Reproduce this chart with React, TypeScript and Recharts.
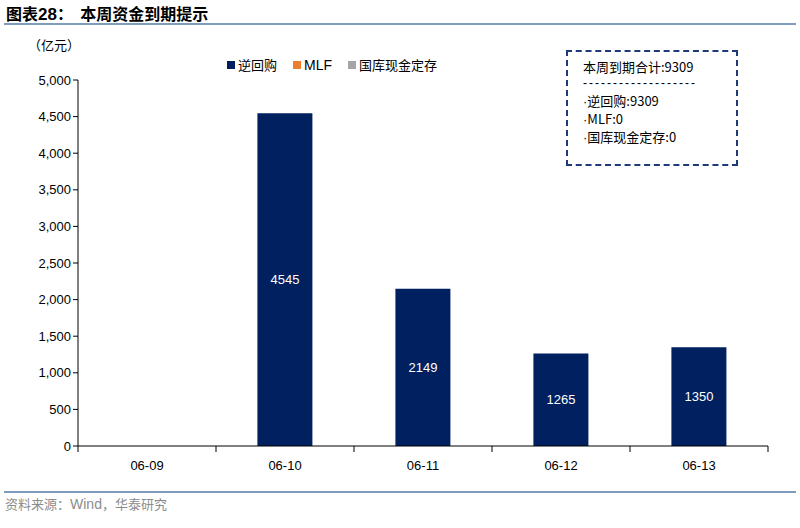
import React from 'react';
import { BarChart, Bar, XAxis, YAxis, LabelList } from 'recharts';

const dates = ['06-09', '06-10', '06-11', '06-12', '06-13'];
const reverseRepo = [0, 4545, 2149, 1265, 1350];
const mlf = [0, 0, 0, 0, 0];
const treasuryDeposit = [0, 0, 0, 0, 0];
const yTicks = [0, 500, 1000, 1500, 2000, 2500, 3000, 3500, 4000, 4500, 5000];

const series = [
  { key: 'repo', name: '逆回购', color: '#002060' },
  { key: 'mlf', name: 'MLF', color: '#ED7D31' },
  { key: 'deposit', name: '国库现金定存', color: '#A5A5A5' },
];

const summaryTitle = '本周到期合计:9309';
const summaryItems = ['逆回购:9309', 'MLF:0', '国库现金定存:0'];

const data = dates.map((d, i) => ({
  name: d,
  repo: reverseRepo[i],
  mlf: mlf[i],
  deposit: treasuryDeposit[i],
}));

const FONT = '"Liberation Sans", Arial, sans-serif';
const CJK = '"Noto Sans CJK SC", sans-serif';

// x axis tick: label in the middle, tick marks on the band edges
const XTick = (props: any) => {
  const { x, y, payload, index } = props;
  const half = 69;
  return (
    <g>
      <line x1={x - half} y1={y - 8} x2={x - half} y2={y - 2} stroke="#000" />
      {index === dates.length - 1 && (
        <line x1={x + half} y1={y - 8} x2={x + half} y2={y - 2} stroke="#000" />
      )}
      <text x={x} y={y + 16} textAnchor="middle" fontSize={13} fontFamily={FONT} fill="#000">
        {payload.value}
      </text>
    </g>
  );
};

const formatTick = (v: number) => v.toLocaleString('en-US');

export default function App() {
  return (
    <div style={{ position: 'absolute', left: 0, top: 0, width: 800, height: 528, background: '#fff', overflow: 'hidden' }}>
      <div style={{ position: 'absolute', left: 6, top: 1, fontSize: 16, fontWeight: 'bold', fontFamily: CJK, color: '#000', whiteSpace: 'nowrap' }}>
        图表<span style={{ fontFamily: FONT, fontSize: 17 }}>28</span>：&nbsp;&nbsp;本周资金到期提示
      </div>
      <div style={{ position: 'absolute', left: 4, top: 23, width: 792, height: 2, background: '#7F9BBE' }} />
      <div style={{ position: 'absolute', left: 28, top: 35, fontSize: 13, fontFamily: CJK, color: '#000', whiteSpace: 'nowrap' }}>（亿元）</div>

      <div style={{ position: 'absolute', left: 227, top: 55, display: 'flex', fontSize: 13, fontFamily: CJK, color: '#000' }}>
        {series.map((s) => (
          <div key={s.key} style={{ display: 'flex', alignItems: 'center', marginRight: 16 }}>
            <span style={{ display: 'inline-block', width: 8, height: 8, background: s.color, marginRight: 3 }} />
            <span style={{ fontFamily: s.key === 'mlf' ? FONT : CJK, fontSize: s.key === 'mlf' ? 14 : 13 }}>{s.name}</span>
          </div>
        ))}
      </div>

      <div style={{ position: 'absolute', left: 566, top: 50, width: 172, height: 116, border: '2px dashed #1F3A78', boxSizing: 'border-box', padding: '6px 0 0 15px', fontSize: 13, lineHeight: '17px', fontFamily: CJK, color: '#000' }}>
        <div style={{ whiteSpace: 'nowrap' }}>{summaryTitle}</div>
        <div style={{ whiteSpace: 'nowrap', fontFamily: FONT, fontSize: 12, letterSpacing: 2 }}>-------------------</div>
        {summaryItems.map((l, i) => (
          <div key={i} style={{ whiteSpace: 'nowrap' }}>
            <span style={{ fontFamily: FONT }}>·</span>{l}
          </div>
        ))}
      </div>

      <div style={{ position: 'absolute', left: 0, top: 0 }}>
        <BarChart width={800} height={528} data={data} margin={{ top: 80, right: 32, bottom: 42, left: 18 }} barCategoryGap="30%">
          <XAxis dataKey="name" axisLine={{ stroke: '#000' }} tickLine={false} tick={<XTick />} interval={0} height={40} />
          <YAxis
            width={60}
            domain={[0, 5000]}
            ticks={yTicks}
            tickFormatter={formatTick}
            axisLine={{ stroke: '#000' }}
            tickLine={{ stroke: '#000' }}
            tickSize={5}
            tick={{ fontSize: 13, fontFamily: FONT, fill: '#000' }}
            interval={0}
          />
          {series.map((s) => (
            <Bar key={s.key} dataKey={s.key} name={s.name} stackId="a" fill={s.color} isAnimationActive={false}>
              {s.key === 'repo' && (
                <LabelList dataKey="repo" position="center" fill="#fff" fontSize={13} fontFamily={FONT} formatter={(v: any) => (v ? v : '')} />
              )}
            </Bar>
          ))}
        </BarChart>
      </div>

      <div style={{ position: 'absolute', left: 4, top: 491, width: 792, height: 2, background: '#7F9BBE' }} />
      <div style={{ position: 'absolute', left: 5, top: 494, fontSize: 13, fontFamily: CJK, color: '#8C8C8C', whiteSpace: 'nowrap' }}>
        资料来源：<span style={{ fontFamily: FONT, fontSize: 14 }}>Wind</span>，华泰研究
      </div>
    </div>
  );
}
